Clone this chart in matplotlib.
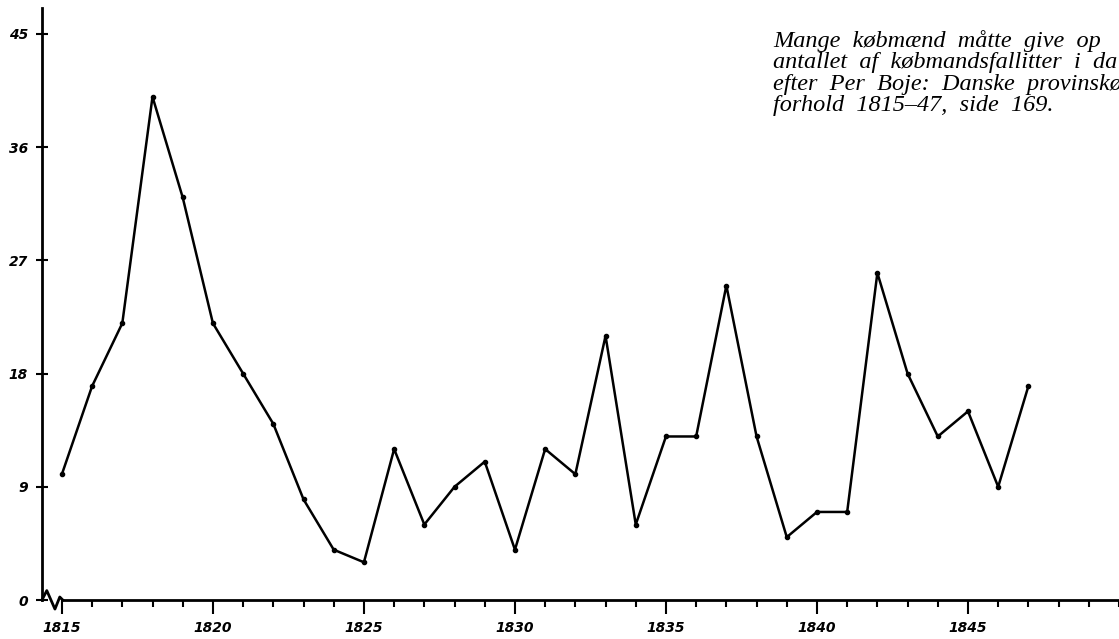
import matplotlib
matplotlib.use('Agg')
import matplotlib.pyplot as plt
from matplotlib.ticker import MultipleLocator

years = list(range(1815, 1848))
fallitter = [10, 17, 22, 40, 32, 22, 18, 14, 8, 4, 3, 12, 6, 9, 11, 4,
             12, 10, 21, 6, 13, 13, 25, 13, 5, 7, 7, 26, 18, 13, 15, 9, 17]
yticks = [0, 9, 18, 27, 36, 45]
xticks = [1815, 1820, 1825, 1830, 1835, 1840, 1845]

# the caption runs off the right edge in the original page scan
note = ("Mange  købmænd  måtte  give  op\n"
        "antallet  af  købmandsfallitter  i  da\n"
        "efter  Per  Boje:  Danske  provinskø\n"
        "forhold  1815–47,  side  169.")

fig = plt.figure(figsize=(11.19, 6.39), dpi=100)
ax = fig.add_axes([0.0375, 0.061, 0.9625, 0.9265])

ax.plot(years, fallitter, color='black', lw=1.8, marker='o', ms=3,
        solid_joinstyle='round')

ax.set_xlim(1814.34, 1850)
ax.set_ylim(0, 47.06)

for s in ['top', 'right']:
    ax.spines[s].set_visible(False)
ax.spines['left'].set_linewidth(2)
ax.spines['bottom'].set_linewidth(2)
ax.spines['bottom'].set_bounds(1815.0, 1850)

# axis break zigzag
zx = [1814.34, 1814.50, 1814.77, 1814.93, 1815.03]
zy = [0, 0.75, -0.72, 0.24, 0]
ax.plot(zx, zy, color='black', lw=2, clip_on=False, solid_joinstyle='round')

ax.set_yticks(yticks)
ax.set_xticks(xticks)
ax.xaxis.set_minor_locator(MultipleLocator(1))
ax.tick_params(axis='y', direction='inout', length=8, width=1.5, pad=6)
ax.tick_params(axis='x', which='major', direction='out', length=10, width=1.5, pad=5)
ax.tick_params(axis='x', which='minor', direction='out', length=5, width=1.5)

for lab in ax.get_xticklabels() + ax.get_yticklabels():
    lab.set_fontstyle('italic')
    lab.set_fontweight('bold')
    lab.set_fontsize(10)

fig.text(0.691, 0.953, note, fontsize=17.5, family='Liberation Serif',
         style='italic', va='top', ha='left', linespacing=1.03)

fig.savefig('out.png', dpi=100)
